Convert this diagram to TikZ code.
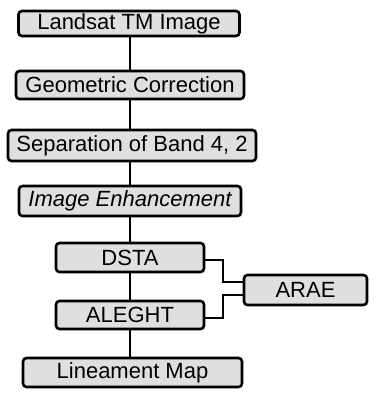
\documentclass[tikz,border=0pt]{standalone}
\usepackage{fontspec}
\setmainfont{Liberation Sans}
\usepackage{tikz}
\usetikzlibrary{positioning}

\tikzset{
  stepbox/.style={draw=black, line width=2.6pt, rounded corners=3.5pt, fill=gray!25,
    inner sep=0pt, font=\fontsize{22}{26}\selectfont},
  link/.style={line width=2pt}
}

\begin{document}
\begin{tikzpicture}[x=1pt,y=-1pt]

\useasboundingbox (0,0) rectangle (377,394);

\node[stepbox, minimum width=221pt, minimum height=25pt] (landsat) at (129,23.5) {Landsat TM Image};
\node[stepbox, minimum width=228pt, minimum height=28pt] (geocorr) at (130,85) {Geometric Correction};
\node[stepbox, minimum width=248pt, minimum height=31pt] (bandsep) at (132,145.5) {Separation of Band 4, 2};
\node[stepbox, minimum width=222pt, minimum height=30pt] (enhance) at (130,201) {\itshape Image Enhancement};

\node[stepbox, minimum width=148pt, minimum height=29pt] (dsta) at (130,257.5) {DSTA};
\node[stepbox, minimum width=148pt, minimum height=28pt] (aleght) at (130,315) {ALEGHT};
\node[stepbox, minimum width=123pt, minimum height=30pt] (arae) at (305.5,290) {ARAE};

\node[stepbox, minimum width=219pt, minimum height=29pt] (linmap) at (132.5,372.5) {Lineament Map};

\draw[link] (130,0 |- landsat.south) edge (130,0 |- geocorr.north);
\draw[link] (130,0 |- geocorr.south) edge (130,0 |- bandsep.north);
\draw[link] (130,0 |- bandsep.south) edge (130,0 |- enhance.north);
\draw[link] (enhance) edge (dsta);
\draw[link] (dsta) edge (aleght);
\draw[link] (130,0 |- aleght.south) edge (130,0 |- linmap.north);

\draw[link] ([yshift=-2pt]dsta.east) -- ++(18,0) |- ([yshift=8pt]arae.west);
\draw[link] ([yshift=-3pt]aleght.east) -- ++(18,0) |- ([yshift=-5pt]arae.west);

\end{tikzpicture}
\end{document}
